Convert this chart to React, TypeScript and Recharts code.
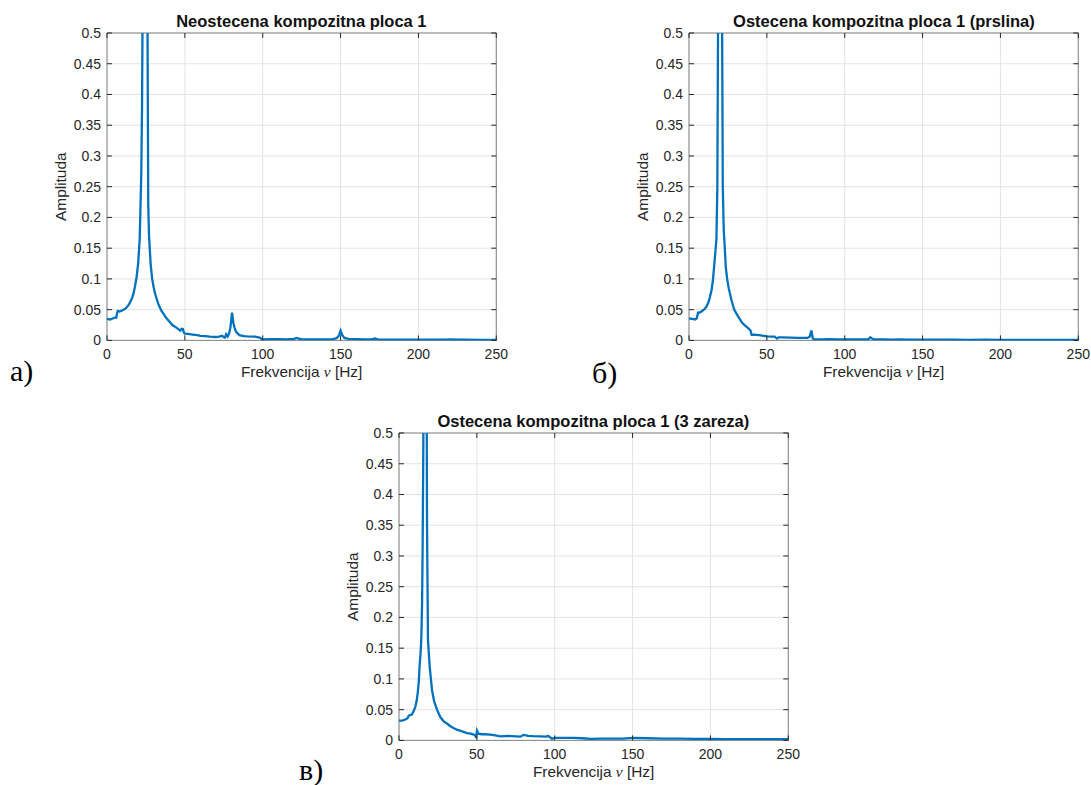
import { LineChart, Line, XAxis, YAxis, CartesianGrid, ReferenceArea, Label } from 'recharts';

const xTicks = [0, 50, 100, 150, 200, 250];
const yTicks = [0, 0.05, 0.1, 0.15, 0.2, 0.25, 0.3, 0.35, 0.4, 0.45, 0.5];

// a) Neostecena kompozitna ploca 1
const freqA = [0, 2, 4, 5, 6, 6.5, 7, 8, 10, 12, 14, 16, 17, 18, 19, 20, 21, 22, 22.5, 23, 24, 25, 26, 26.5, 27, 28, 29, 30, 31, 33, 35, 38.5, 42, 45, 47, 48, 48.7, 49.3, 50, 52, 55, 58, 60, 63, 66, 70, 72, 74, 75, 75.7, 76.5, 77.5, 78.5, 79.3, 80.3, 81.2, 82, 83, 85, 88, 90, 95, 98, 100, 105, 110, 115, 120, 122, 123, 125, 130, 135, 140, 145, 147.5, 149, 150, 151, 152.5, 155, 160, 165, 170, 172, 174, 180, 190, 200, 210, 218, 220, 225, 230, 240, 250];
const ampA = [0.035, 0.034, 0.036, 0.037, 0.037, 0.045, 0.048, 0.047, 0.049, 0.052, 0.058, 0.068, 0.076, 0.088, 0.103, 0.125, 0.165, 0.27, 0.38, 0.6, 1.5, 1.3, 0.52, 0.22, 0.17, 0.125, 0.1, 0.086, 0.075, 0.059, 0.048, 0.035, 0.025, 0.02, 0.016, 0.019, 0.0185, 0.013, 0.011, 0.0105, 0.0095, 0.0085, 0.0075, 0.0068, 0.006, 0.0055, 0.006, 0.0075, 0.005, 0.0045, 0.01, 0.0065, 0.012, 0.022, 0.045, 0.028, 0.02, 0.0135, 0.0085, 0.007, 0.0065, 0.006, 0.0045, 0.0015, 0.002, 0.002, 0.0018, 0.0025, 0.004, 0.0028, 0.002, 0.0018, 0.0016, 0.0016, 0.002, 0.0035, 0.008, 0.016, 0.009, 0.004, 0.0025, 0.002, 0.0017, 0.0015, 0.003, 0.0016, 0.0013, 0.0012, 0.0011, 0.0011, 0.0014, 0.0016, 0.0013, 0.0012, 0.001, 0.001];

// б) Ostecena kompozitna ploca 1 (prslina)
const freqB = [0, 2, 4, 5, 5.8, 6.5, 8, 10, 11.2, 12.5, 13.3, 14.5, 15.4, 16.5, 17.6, 18.2, 18.8, 19.5, 20.5, 21.2, 21.7, 22.3, 23, 23.6, 24.5, 25.5, 27.2, 29, 31.5, 34, 36, 38, 39.5, 40.2, 42, 45, 48, 50, 53, 55, 56.5, 57.5, 60, 65, 70, 74, 76, 77.5, 78.6, 79.5, 80.5, 85, 90, 95, 100, 105, 110, 115, 116.5, 117.5, 119, 125, 130, 135, 140, 150, 160, 170, 180, 190, 200, 210, 220, 230, 240, 250];
const ampB = [0.036, 0.035, 0.034, 0.036, 0.045, 0.045, 0.047, 0.051, 0.055, 0.062, 0.069, 0.082, 0.099, 0.131, 0.164, 0.25, 0.6, 1.6, 1.4, 0.55, 0.25, 0.18, 0.15, 0.12, 0.1, 0.085, 0.066, 0.05, 0.039, 0.029, 0.024, 0.02, 0.016, 0.009, 0.0095, 0.0085, 0.0075, 0.0065, 0.006, 0.006, 0.003, 0.005, 0.005, 0.0045, 0.004, 0.004, 0.004, 0.006, 0.016, 0.003, 0.0018, 0.0018, 0.002, 0.0017, 0.0015, 0.0017, 0.0016, 0.0018, 0.005, 0.003, 0.0015, 0.0016, 0.0014, 0.0018, 0.0013, 0.0012, 0.0011, 0.0012, 0.001, 0.0011, 0.001, 0.0009, 0.001, 0.0009, 0.001, 0.001];

// в) Ostecena kompozitna ploca 1 (3 zareza)
const freqC = [0, 2, 4, 5.5, 6.2, 7, 8.3, 9.5, 10.5, 11.3, 12, 12.7, 13.2, 13.8, 14.3, 14.8, 15.2, 15.6, 16.2, 17, 17.5, 18, 18.6, 19.7, 21.2, 22.5, 24.4, 26.5, 28.7, 31, 33, 35, 37.2, 40, 43.7, 46, 48, 49, 49.5, 50.1, 51, 53, 55, 58.6, 62, 65, 70, 75, 78, 80, 83, 86, 90.7, 94, 96, 98.2, 100, 105, 112, 118, 122.8, 130, 138, 144, 150, 160, 170, 180, 190, 200, 210, 220, 230, 240, 250];
const ampC = [0.032, 0.032, 0.034, 0.036, 0.04, 0.041, 0.042, 0.048, 0.055, 0.064, 0.077, 0.095, 0.12, 0.14, 0.164, 0.22, 0.32, 0.47, 0.9, 1.5, 0.8, 0.35, 0.164, 0.12, 0.082, 0.064, 0.05, 0.038, 0.031, 0.027, 0.023, 0.02, 0.0174, 0.015, 0.012, 0.011, 0.0095, 0.008, 0.004, 0.016, 0.011, 0.01, 0.01, 0.0093, 0.008, 0.0065, 0.0072, 0.0065, 0.006, 0.009, 0.0075, 0.007, 0.0065, 0.006, 0.007, 0.0028, 0.004, 0.0042, 0.004, 0.0035, 0.0025, 0.003, 0.003, 0.003, 0.004, 0.0035, 0.0028, 0.003, 0.0025, 0.0025, 0.0022, 0.002, 0.002, 0.0022, 0.002];

const PW = 389.3;
const PH = 307.4;
const YW = 60;
const MT = 10;
const MR = 24;
const XH = 45;
const FONT = '"Liberation Sans", Arial, sans-serif';
const TXT = '#262626';

function Panel({ plotLeft, plotTop, title, freq, amp }: any) {
  const data = freq.map((f: number, i: number) => ({ f, a: amp[i] }));

  const YTick = (p: any) => {
    const px = p.x + 6;
    return (
      <g>
        <text x={p.x} y={p.y} dy="0.355em" textAnchor="end" fontSize={14} fontFamily={FONT} fill={TXT}>
          {p.payload.value}
        </text>
        <line x1={px} x2={px + 5} y1={p.y} y2={p.y} stroke={TXT} />
        <line x1={px + PW - 5} x2={px + PW} y1={p.y} y2={p.y} stroke={TXT} />
      </g>
    );
  };

  const XTick = (p: any) => {
    const by = p.y - 9;
    return (
      <g>
        <text x={p.x} y={p.y} dy="0.71em" textAnchor="middle" fontSize={14} fontFamily={FONT} fill={TXT}>
          {p.payload.value}
        </text>
        <line x1={p.x} x2={p.x} y1={by - 5} y2={by} stroke={TXT} />
        <line x1={p.x} x2={p.x} y1={by - PH} y2={by - PH + 5} stroke={TXT} />
      </g>
    );
  };

  const yLabel = () => (
    <text
      x={YW - 41}
      y={MT + PH / 2}
      transform={`rotate(-90 ${YW - 41} ${MT + PH / 2})`}
      textAnchor="middle"
      fontSize={15.4}
      fontFamily={FONT}
      fill={TXT}
    >
      Amplituda
    </text>
  );

  const xLabel = () => (
    <text x={YW + PW / 2} y={MT + PH + 37} textAnchor="middle" fontSize={15.4} fontFamily={FONT} fill={TXT}>
      <tspan>Frekvencija </tspan>
      <tspan fontStyle="italic" fontFamily='"Liberation Serif", serif'>ν</tspan>
      <tspan> [Hz]</tspan>
    </text>
  );

  return (
    <>
      <div
        style={{
          position: 'absolute', left: plotLeft, top: plotTop - 20, width: PW,
          textAlign: 'center', fontFamily: FONT, fontWeight: 'bold', fontSize: 16.5,
          lineHeight: 1, color: '#111', whiteSpace: 'nowrap',
        }}
      >
        {title}
      </div>
      <div style={{ position: 'absolute', left: plotLeft - YW, top: plotTop - MT }}>
        <LineChart width={YW + PW + MR} height={MT + PH + XH} data={data} margin={{ top: MT, right: MR, left: 0, bottom: 0 }}>
          <CartesianGrid stroke="#e3e3e3" horizontalValues={yTicks} verticalValues={xTicks} />
          <XAxis
            dataKey="f" type="number" domain={[0, 250]} ticks={xTicks} interval={0}
            height={XH} tickSize={0} tickMargin={9} axisLine={false} tick={XTick}
            label={<Label content={xLabel} />}
          />
          <YAxis
            type="number" domain={[0, 0.5]} ticks={yTicks} interval={0} allowDataOverflow
            width={YW} tickSize={0} tickMargin={6} axisLine={false} tick={YTick}
            label={<Label content={yLabel} />}
          />
          <ReferenceArea x1={0} x2={250} y1={0} y2={0.5} fill="none" stroke="#858585" strokeWidth={1} />
          <Line type="linear" dataKey="a" stroke="#0072BD" strokeWidth={2.3} dot={false} isAnimationActive={false} />
        </LineChart>
      </div>
    </>
  );
}

const letterStyle = {
  position: 'absolute' as const, fontFamily: '"Liberation Serif", "Times New Roman", serif',
  fontSize: 30, lineHeight: 1, color: '#000',
};

export default function App() {
  return (
    <div style={{ position: 'absolute', left: 0, top: 0, width: 1091, height: 785, background: '#fff', overflow: 'hidden' }}>
      <Panel plotLeft={106.7} plotTop={33.3} title="Neostecena kompozitna ploca 1" freq={freqA} amp={ampA} />
      <Panel plotLeft={689.3} plotTop={33.3} title="Ostecena kompozitna ploca 1 (prslina)" freq={freqB} amp={ampB} />
      <Panel plotLeft={398.7} plotTop={433.3} title="Ostecena kompozitna ploca 1 (3 zareza)" freq={freqC} amp={ampC} />
      <div style={{ ...letterStyle, left: 10, top: 356 }}>a)</div>
      <div style={{ ...letterStyle, left: 592, top: 358 }}>б)</div>
      <div style={{ ...letterStyle, left: 299, top: 755 }}>в)</div>
    </div>
  );
}
